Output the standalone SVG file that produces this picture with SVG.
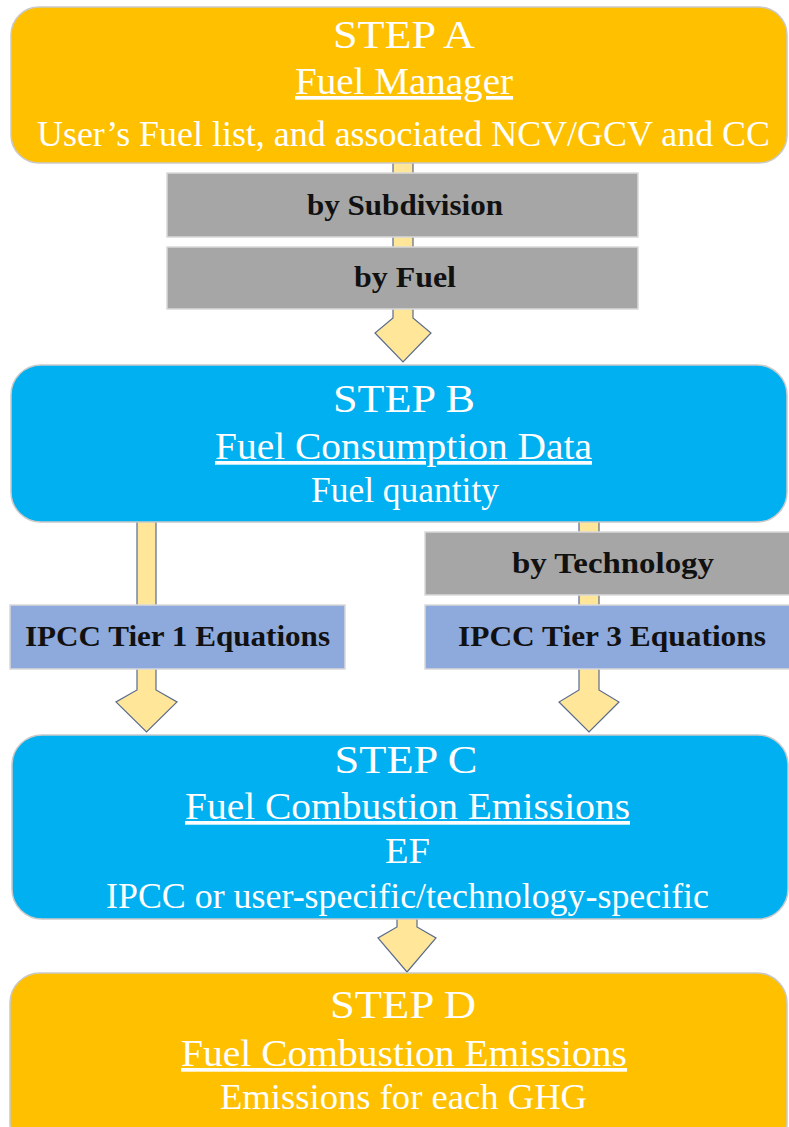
<svg xmlns="http://www.w3.org/2000/svg" width="789" height="1127" viewBox="0 0 789 1127">
<style>
.step{stroke:#C9C9C9;stroke-width:1.5}
.gold{fill:#FFC000}
.blue{fill:#00B0F0}
.gray{fill:#A6A6A6;stroke:#D9D9D9;stroke-width:1.5}
.lav{fill:#8EA9DB;stroke:#D9D9D9;stroke-width:1.5}
.arrow{fill:#FFE699;stroke:#5A6B8C;stroke-width:1.2;stroke-linejoin:miter}
text{font-family:"Liberation Serif","Times New Roman",serif;text-anchor:middle}
.w{fill:#FFFFFF}
.t1{font-size:40px}
.t2{font-size:37px;text-decoration:underline}
.t3{font-size:35px}
.lb{font-size:29px;font-weight:bold;fill:#111111}
</style>
<rect width="789" height="1127" fill="#FFFFFF"/>
<g id="connectors">
<path class="arrow" d="M393,160 L393,318 L375,333 L403,362 L431,333 L413,318 L413,160 Z"/>
<path class="arrow" d="M137,518 L137,690 L116,702 L146.5,732 L177,702 L156,690 L156,518 Z"/>
<path class="arrow" d="M579,518 L579,690 L559,702 L589,732 L619,702 L599,690 L599,518 Z"/>
<path class="arrow" d="M397,915 L397,927 L378,938 L407,972 L436,938 L417,927 L417,915 Z"/>
</g>
<g id="stepA">
<rect class="step gold" x="11" y="7" width="776" height="156" rx="28"/>
<text class="w t1" x="404" y="48" textLength="142" lengthAdjust="spacingAndGlyphs">STEP A</text>
<text class="w t2" x="404" y="94" textLength="218" lengthAdjust="spacingAndGlyphs">Fuel Manager</text>
<text class="w t3" x="403.5" y="146" textLength="733" lengthAdjust="spacingAndGlyphs">User’s Fuel list, and associated NCV/GCV and CC</text>
</g>
<g id="bySubdivision">
<rect class="gray" x="167" y="173" width="471" height="64"/>
<text class="lb" x="405" y="215" textLength="196" lengthAdjust="spacingAndGlyphs">by Subdivision</text>
</g>
<g id="byFuel">
<rect class="gray" x="167" y="247" width="471" height="62"/>
<text class="lb" x="405" y="287" textLength="102" lengthAdjust="spacingAndGlyphs">by Fuel</text>
</g>
<g id="stepB">
<rect class="step blue" x="11" y="365" width="776" height="157" rx="30"/>
<text class="w t1" x="404" y="412" textLength="142" lengthAdjust="spacingAndGlyphs">STEP B</text>
<text class="w t2" x="403.5" y="459" textLength="377" lengthAdjust="spacingAndGlyphs">Fuel Consumption Data</text>
<text class="w t3" x="405" y="502" textLength="188" lengthAdjust="spacingAndGlyphs">Fuel quantity</text>
</g>
<g id="byTechnology">
<rect class="gray" x="425" y="532" width="370" height="63"/>
<text class="lb" x="613" y="573" textLength="202" lengthAdjust="spacingAndGlyphs">by Technology</text>
</g>
<g id="tier1">
<rect class="lav" x="10" y="605" width="335" height="64"/>
<text class="lb" x="177.5" y="646" textLength="305" lengthAdjust="spacingAndGlyphs">IPCC Tier 1 Equations</text>
</g>
<g id="tier3">
<rect class="lav" x="425" y="605" width="370" height="64"/>
<text class="lb" x="612" y="646" textLength="308" lengthAdjust="spacingAndGlyphs">IPCC Tier 3 Equations</text>
</g>
<g id="stepC">
<rect class="step blue" x="12" y="735" width="776" height="184" rx="30"/>
<text class="w t1" x="406" y="773" textLength="143" lengthAdjust="spacingAndGlyphs">STEP C</text>
<text class="w t2" x="407.5" y="819" textLength="445" lengthAdjust="spacingAndGlyphs">Fuel Combustion Emissions</text>
<text class="w t3" x="407.5" y="863" textLength="45" lengthAdjust="spacingAndGlyphs">EF</text>
<text class="w t3" x="407.5" y="908" textLength="603" lengthAdjust="spacingAndGlyphs">IPCC or user-specific/technology-specific</text>
</g>
<g id="stepD">
<rect class="step gold" x="10" y="973" width="777" height="180" rx="30"/>
<text class="w t1" x="403" y="1018" textLength="146" lengthAdjust="spacingAndGlyphs">STEP D</text>
<text class="w t2" x="404" y="1066" textLength="446" lengthAdjust="spacingAndGlyphs">Fuel Combustion Emissions</text>
<text class="w t3" x="403.5" y="1109" textLength="367" lengthAdjust="spacingAndGlyphs">Emissions for each GHG</text>
</g>
</svg>
